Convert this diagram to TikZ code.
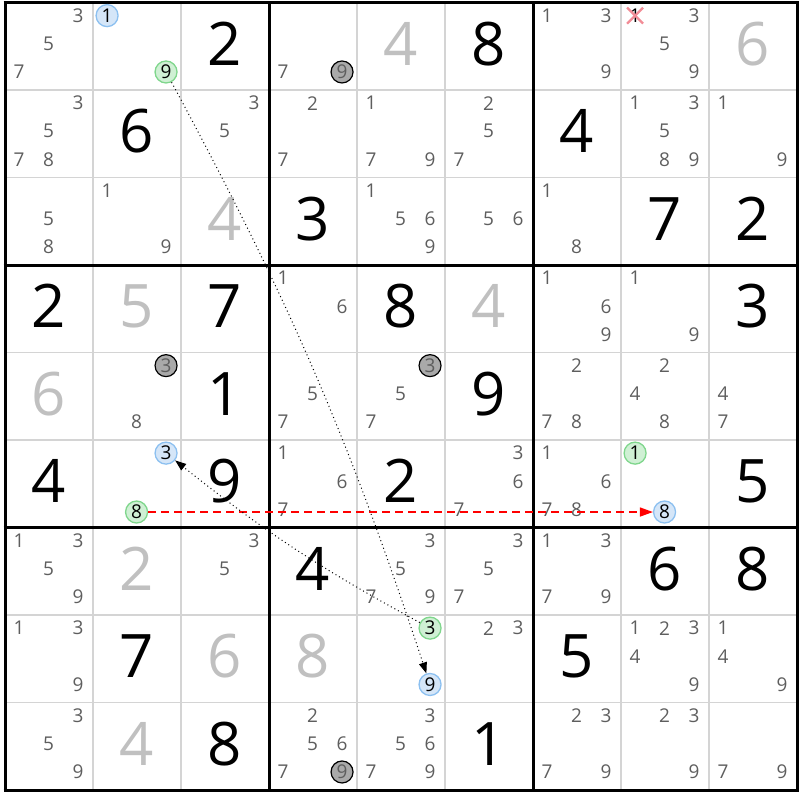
\documentclass[tikz,border=0pt]{standalone}
\usepackage{fontspec}
\setmainfont{Open Sans}
\usetikzlibrary{arrows.meta}
\definecolor{CandGray}{HTML}{5E5E5E}
\definecolor{GivenGray}{HTML}{C0C0C0}
\definecolor{GridGray}{HTML}{D4D4D4}
\definecolor{MarkBlue}{HTML}{8CC0F0}
\definecolor{MarkBlueFill}{HTML}{D5E6F8}
\definecolor{MarkGreen}{HTML}{7FD68C}
\definecolor{MarkGreenFill}{HTML}{CFF0D4}
\definecolor{MarkGray}{HTML}{A9A9A9}
\definecolor{CrossRed}{HTML}{F28C96}
\newcommand{\candfont}{\fontsize{19}{19}\selectfont}
\newcommand{\digitfont}{\fontsize{60}{60}\selectfont}
% row, column, list of candidates
\newcommand{\cands}[3]{%
  \foreach \dg in {#3}{%
    \pgfmathsetmacro{\cx}{#2-0.84+0.335*mod(\dg-1,3)}%
    \pgfmathsetmacro{\cy}{#1-0.85+0.322*floor((\dg-1)/3)}%
    \node[cand] at (\cx,\cy) {\dg};}}
\tikzset{
  cand/.style={text=CandGray, font=\candfont, inner sep=0pt},
  solved/.style={text=black, font=\digitfont, inner sep=0pt},
  given/.style={text=GivenGray, font=\digitfont, inner sep=0pt},
  bluemark/.style={circle, draw=MarkBlue, fill=MarkBlueFill, line width=1.3pt, minimum size=22pt, inner sep=0pt, font=\candfont},
  greenmark/.style={circle, draw=MarkGreen, fill=MarkGreenFill, line width=1.3pt, minimum size=22pt, inner sep=0pt, font=\candfont},
  graymark/.style={circle, draw=black, fill=MarkGray, line width=1.2pt, minimum size=22pt, inner sep=0pt, font=\candfont, text=CandGray},
  weaklink/.style={line width=1pt, dash pattern=on 1pt off 3pt, -{Triangle[length=11pt,width=8pt]}},
  stronglink/.style={red, line width=1.4pt, dash pattern=on 8pt off 5pt, -{Triangle[length=13pt,width=9pt]}},
}
\begin{document}
\begin{tikzpicture}[x=88pt, y=-87.5pt]
\useasboundingbox (-0.05682,-0.02857) rectangle (9.03409,9.11429);
% grid
\foreach \i in {1,...,8} {
  \draw[GridGray, line width=1.5pt] (\i,0) -- (\i,9);
  \draw[GridGray, line width=1.5pt] (0,\i) -- (9,\i);
}
\foreach \i in {0,3,6,9} {
  \draw[line width=3pt] (\i,-0.017) -- (\i,9.017);
  \draw[line width=3pt] (-0.017,\i) -- (9.017,\i);
}
% digits
\foreach \r/\col/\v in {1/3/2, 1/6/8, 2/2/6, 2/7/4, 3/4/3, 3/8/7, 3/9/2, 4/1/2, 4/3/7, 4/5/8, 4/9/3, 5/3/1, 5/6/9, 6/1/4, 6/3/9, 6/5/2, 6/9/5, 7/4/4, 7/8/6, 7/9/8, 8/2/7, 8/7/5, 9/3/8, 9/6/1}
  \node[solved] at (\col-0.5,\r-0.53) {\v};
\foreach \r/\col/\v in {1/5/4, 1/9/6, 3/3/4, 4/2/5, 4/6/4, 5/1/6, 7/2/2, 8/3/6, 8/4/8, 9/2/4}
  \node[given] at (\col-0.5,\r-0.53) {\v};
% candidates
\cands{1}{1}{3,5,7}
\cands{1}{4}{7}
\cands{1}{7}{1,3,9}
\cands{1}{8}{3,5,9}
\cands{2}{1}{3,5,7,8}
\cands{2}{3}{3,5}
\cands{2}{4}{2,7}
\cands{2}{5}{1,7,9}
\cands{2}{6}{2,5,7}
\cands{2}{8}{1,3,5,8,9}
\cands{2}{9}{1,9}
\cands{3}{1}{5,8}
\cands{3}{2}{1,9}
\cands{3}{5}{1,5,6,9}
\cands{3}{6}{5,6}
\cands{3}{7}{1,8}
\cands{4}{4}{1,6}
\cands{4}{7}{1,6,9}
\cands{4}{8}{1,9}
\cands{5}{2}{8}
\cands{5}{4}{5,7}
\cands{5}{5}{5,7}
\cands{5}{7}{2,7,8}
\cands{5}{8}{2,4,8}
\cands{5}{9}{4,7}
\cands{6}{4}{1,6,7}
\cands{6}{6}{3,6,7}
\cands{6}{7}{1,6,7,8}
\cands{7}{1}{1,3,5,9}
\cands{7}{3}{3,5}
\cands{7}{5}{3,5,7,9}
\cands{7}{6}{3,5,7}
\cands{7}{7}{1,3,7,9}
\cands{8}{1}{1,3,9}
\cands{8}{6}{2,3}
\cands{8}{8}{1,2,3,4,9}
\cands{8}{9}{1,4,9}
\cands{9}{1}{3,5,9}
\cands{9}{4}{2,5,6,7}
\cands{9}{5}{3,5,6,7,9}
\cands{9}{7}{2,3,7,9}
\cands{9}{8}{2,3,9}
\cands{9}{9}{7,9}
% marked candidates
\node[bluemark] (r1c2n1) at (1.16,0.15) {1};
\node[greenmark] (r1c2n9) at (1.83,0.794) {9};
\node[graymark] (r1c4n9) at (3.83,0.794) {9};
\node[graymark] (r5c2n3) at (1.83,4.15) {3};
\node[graymark] (r5c5n3) at (4.83,4.15) {3};
\node[bluemark] (r6c2n3) at (1.83,5.15) {3};
\node[greenmark] (r6c2n8) at (1.495,5.823) {8};
\node[greenmark] (r6c8n1) at (7.16,5.15) {1};
\node[bluemark] (r6c8n8) at (7.495,5.823) {8};
\node[greenmark] (r8c5n3) at (4.83,7.15) {3};
\node[bluemark] (r8c5n9) at (4.83,7.794) {9};
\node[graymark] (r9c4n9) at (3.83,8.794) {9};
% removed candidate
\node[cand, text=black] (r1c8n1) at (7.16,0.15) {1};
\draw[CrossRed, line width=2.2pt] ([shift={(-8pt,-8pt)}]r1c8n1.center) -- ([shift={(8pt,8pt)}]r1c8n1.center);
\draw[CrossRed, line width=2.2pt] ([shift={(-8pt,8pt)}]r1c8n1.center) -- ([shift={(8pt,-8pt)}]r1c8n1.center);
% links
\draw[stronglink] (r6c2n8) -- (r6c8n8);
\draw[weaklink] (r1c2n9) to[bend left=5] (r8c5n9);
\draw[weaklink] (r8c5n3) to[bend left=5] (r6c2n3);
\end{tikzpicture}
\end{document}
